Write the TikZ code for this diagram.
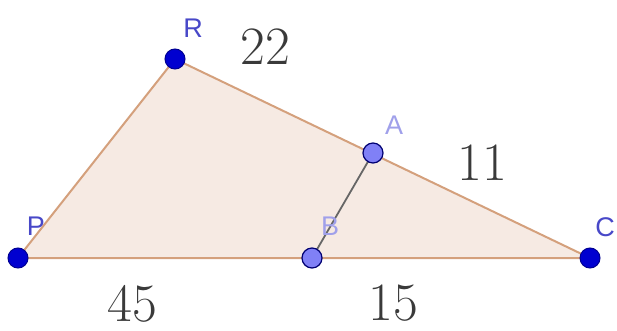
\documentclass[tikz,border=0pt]{standalone}
\usepackage{fontspec}
\setsansfont{Liberation Sans}
\usepackage{xcolor}
\definecolor{edgetan}{HTML}{D4A07C}
\definecolor{filltan}{HTML}{F6EAE3}
\definecolor{ptdark}{HTML}{0000D0}
\definecolor{ptlight}{HTML}{8080F6}
\definecolor{lbldark}{HTML}{4848C8}
\definecolor{lbllight}{HTML}{A0A0EA}
\definecolor{numgray}{HTML}{3A3A3A}

\begin{document}
\begin{tikzpicture}[x=1pt, y=-1pt,
  vertex/.style={circle, inner sep=0pt, minimum size=20pt, fill=ptdark, draw=ptdark!70!black, line width=1pt},
  freept/.style={circle, inner sep=0pt, minimum size=20pt, fill=ptlight, draw=ptdark!55!black, line width=1.2pt},
  ptlabel/.style={font=\sffamily\fontsize{27}{30}\selectfont, text=lbldark, inner sep=0pt},
  ptlabelb/.style={ptlabel, text=lbllight},
  seglabel/.style={font=\fontsize{54}{60}\selectfont, text=numgray, inner sep=0pt}]
  \useasboundingbox (0,0) rectangle (617,331);

  % corners and points on the sides
  \coordinate (P) at (18,258);
  \coordinate (R) at (175,59);
  \coordinate (C) at (590,258);
  \coordinate (A) at (373,153);
  \coordinate (B) at (312,258);

  % triangle and segment AB
  \draw[fill=filltan, draw=edgetan, line width=2pt, line join=round] (P) -- (R) -- (C) -- cycle;
  \draw[draw=black!60, line width=1.8pt] (A) -- (B);

  % dots
  \node[vertex] (Pdot) at (P) {};
  \node[vertex] (Rdot) at (R) {};
  \node[vertex] (Cdot) at (C) {};
  \node[freept] (Adot) at (A) {};
  \node[freept] (Bdot) at (B) {};

  % point names
  \node[ptlabel] (Pname) at (36,226) {P};
  \node[ptlabel] (Rname) at (193,28) {R};
  \node[ptlabel] (Cname) at (605,227) {C};
  \node[ptlabelb] (Aname) at (394,125) {A};
  \node[ptlabelb] (Bname) at (330,226) {B};

  % lengths
  \node[seglabel] (lenRA) at (265,47) {22};
  \node[seglabel] (lenAC) at (482,163) {11};
  \node[seglabel] (lenPB) at (132,304) {45};
  \node[seglabel] (lenBC) at (393,303) {15};
\end{tikzpicture}
\end{document}
